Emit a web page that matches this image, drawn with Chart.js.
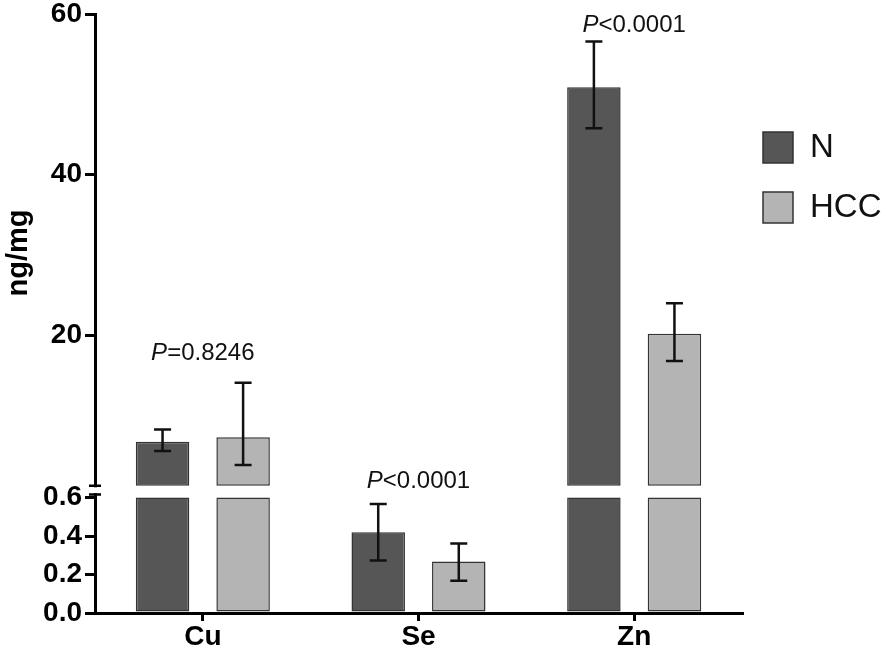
<!DOCTYPE html>
<html>
<head>
<meta charset="utf-8">
<script src="https://cdn.jsdelivr.net/npm/chart.js@4"></script>
<style>
  body { margin: 0; background: #fff; }
  #wrap { width: 886px; height: 655px; }
</style>
</head>
<body>
<div id="wrap"><canvas id="myChart"></canvas></div>
<script>
// data
let categories = ["Cu", "Se", "Zn"]
let seriesNames = ["N", "HCC"]
let nMean = [6.75, 0.42, 50.9]
let nErrUp = [1.5, 0.147, 5.7]
let nErrDown = [1.15, 0.147, 5.1]
let hccMean = [7.3, 0.268, 20.2]
let hccErrUp = [6.8, 0.094, 3.8]
let hccErrDown = [3.45, 0.1, 3.4]
let pTexts = ["=0.8246", "<0.0001", "<0.0001"]
let pLabelY = [17.7, 1.8, 58.6]   // where the P labels sit, upper axis units

// broken y axis: 0-0.6 below, 1.25-60 above
let lowTicks = [0, 0.2, 0.4, 0.6]
let highTicks = [20, 40, 60]
let lowCut = 0.6
let highCut = 1.25

const FONT = "'Liberation Sans', Arial, sans-serif"
const colors = ["#565656", "#b4b4b4"]
const edge = "#333"

const lowPart = vals => vals.map(v => v > lowCut ? [0, lowCut] : v)
const highPart = vals => vals.map(v => v > lowCut ? [highCut, v] : null)

const means = [nMean, hccMean]
const errUp = [nErrUp, hccErrUp]
const errDown = [nErrDown, hccErrDown]

function barSet(i, part, axis) {
  return {
    label: seriesNames[i],
    data: part(means[i]),
    yAxisID: axis,
    stack: seriesNames[i],
    backgroundColor: colors[i],
    borderColor: edge,
    borderWidth: 1.5,
    borderSkipped: false,
    categoryPercentage: 0.747,
    barPercentage: 0.664
  }
}

const extras = {
  id: "extras",
  afterDatasetsDraw(chart) {
    const ctx = chart.ctx
    const yH = chart.scales.yHigh, yL = chart.scales.yLow, xs = chart.scales.x
    const axisX = yH.right
    ctx.save()
    // error bars
    ctx.strokeStyle = "#111"
    ctx.lineWidth = 2.5
    for (let s = 0; s < 2; s++) {
      const meta = chart.getDatasetMeta(s * 2)
      for (let i = 0; i < categories.length; i++) {
        const sc = means[s][i] > lowCut ? yH : yL
        const x = meta.data[i].x
        const top = sc.getPixelForValue(means[s][i] + errUp[s][i])
        const bot = sc.getPixelForValue(means[s][i] - errDown[s][i])
        ctx.beginPath()
        ctx.moveTo(x, top); ctx.lineTo(x, bot)
        ctx.moveTo(x - 8.5, top); ctx.lineTo(x + 8.5, top)
        ctx.moveTo(x - 8.5, bot); ctx.lineTo(x + 8.5, bot)
        ctx.stroke()
      }
    }
    // axis break
    const gTop = yH.getPixelForValue(highCut)
    const gBot = yL.getPixelForValue(lowCut) - 3
    ctx.fillStyle = "#fff"
    ctx.fillRect(axisX - 3, gTop + 1.5, 6, gBot - gTop - 3)
    ctx.strokeStyle = "#000"
    ctx.lineWidth = 2.5
    ctx.beginPath()
    ctx.moveTo(axisX - 6, gTop); ctx.lineTo(axisX + 6, gTop)
    ctx.moveTo(axisX - 6, gBot); ctx.lineTo(axisX + 6, gBot)
    ctx.stroke()
    // P values
    ctx.fillStyle = "#111"
    ctx.textBaseline = "middle"
    ctx.textAlign = "left"
    for (let i = 0; i < categories.length; i++) {
      ctx.font = "italic 24px " + FONT
      const wP = ctx.measureText("P").width
      ctx.font = "24px " + FONT
      const wR = ctx.measureText(pTexts[i]).width
      const cx = xs.getPixelForValue(i)
      const y = yH.getPixelForValue(pLabelY[i])
      const x0 = cx - (wP + wR) / 2
      ctx.font = "italic 24px " + FONT
      ctx.fillText("P", x0, y)
      ctx.font = "24px " + FONT
      ctx.fillText(pTexts[i], x0 + wP, y)
    }
    // legend
    const lx = chart.chartArea.right + 21
    const ly = [132, 192]
    for (let s = 0; s < 2; s++) {
      ctx.fillStyle = colors[s]
      ctx.fillRect(lx, ly[s], 30, 31)
      ctx.strokeStyle = edge
      ctx.lineWidth = 1.5
      ctx.strokeRect(lx, ly[s], 30, 31)
      ctx.fillStyle = "#111"
      ctx.font = "33px " + FONT
      ctx.fillText(seriesNames[s], lx + 47, ly[s] + 16)
    }
    ctx.restore()
  }
}

const axisFont = { family: FONT, size: 28, weight: "bold", lineHeight: 0.8 }

new Chart(document.getElementById("myChart").getContext("2d"), {
  type: "bar",
  data: {
    labels: categories,
    datasets: [
      barSet(0, lowPart, "yLow"),
      barSet(0, highPart, "yHigh"),
      barSet(1, lowPart, "yLow"),
      barSet(1, highPart, "yHigh")
    ]
  },
  options: {
    responsive: true,
    maintainAspectRatio: false,
    animation: false,
    layout: { padding: { top: 0, right: 144, bottom: 2, left: 0 } },
    plugins: { legend: { display: false }, tooltip: { enabled: false } },
    scales: {
      x: {
        grid: { drawOnChartArea: false, offset: false, tickLength: 8, lineWidth: 3, color: "#000" },
        border: { width: 3, color: "#000" },
        ticks: { font: { family: FONT, size: 28, weight: "bold", lineHeight: 1 }, color: "#000", padding: 2 }
      },
      yLow: {
        type: "linear", position: "left", stack: "y", stackWeight: 121, stacked: false,
        min: 0, max: 0.63,
        afterBuildTicks: s => { s.ticks = lowTicks.map(v => ({ value: v })) },
        ticks: { font: axisFont, color: "#000", padding: 3, autoSkip: false, callback: v => v.toFixed(1) },
        grid: { drawOnChartArea: false, tickLength: 10, lineWidth: 3, color: "#000" },
        border: { width: 3, color: "#000" },
        afterFit: s => { s.width = 95 }
      },
      yHigh: {
        type: "linear", position: "left", stack: "y", stackWeight: 477, stacked: false,
        min: 0.5, max: 60,
        afterBuildTicks: s => { s.ticks = highTicks.map(v => ({ value: v })) },
        ticks: { font: axisFont, color: "#000", padding: 3, autoSkip: false },
        grid: { drawOnChartArea: false, tickLength: 10, lineWidth: 3, color: "#000" },
        border: { width: 3, color: "#000" },
        title: { display: true, text: "ng/mg", color: "#000", font: { family: FONT, size: 29, weight: "bold" }, padding: { top: 2, bottom: 0 } },
        afterFit: s => { s.width = 95 }
      }
    }
  },
  plugins: [extras]
});
</script>
</body>
</html>
